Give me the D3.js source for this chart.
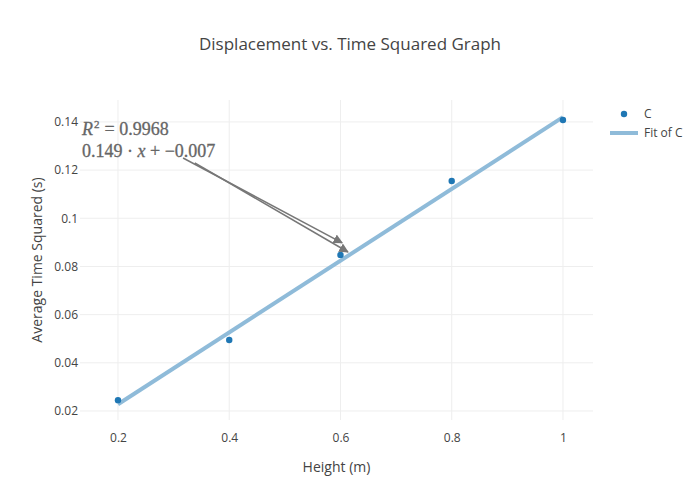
<!DOCTYPE html>
<html><head><meta charset="utf-8">
<script src="https://cdn.jsdelivr.net/npm/d3@7"></script>
<style>body{margin:0;background:#fff}</style>
</head><body><svg id="c" width="700" height="500"></svg>
<script>
const heights = [0.2, 0.4, 0.6, 0.8, 1.0];
const timeSq = [0.0245, 0.0495, 0.0848, 0.1155, 0.1408];
const fitSlope = 0.149, fitIntercept = -0.007;
const fitRange = [0.2, 1.0];
const xTicks = [0.2, 0.4, 0.6, 0.8, 1];
const yTicks = [0.02, 0.04, 0.06, 0.08, 0.1, 0.12, 0.14];
const seriesNames = ["C", "Fit of C"];
// annotation arrows: [tail, head] in data units
const arrows = [[[0.317, 0.1250], [0.603, 0.0898]], [[0.338, 0.1230], [0.6135, 0.0860]]];

const svg = d3.select("#c");
const m = {l:80, r:107, t:100, b:80};
const W = 700, H = 500;
const x = d3.scaleLinear().domain([0.1317, 1.054]).range([m.l, W - m.r]);
const y = d3.scaleLinear().domain([0.01626, 0.1491]).range([H - m.b, m.t]);
const font = "'Open Sans', sans-serif";

// grid
svg.append("g").selectAll("line").data(xTicks).join("line")
  .attr("x1", d => x(d)).attr("x2", d => x(d)).attr("y1", m.t).attr("y2", H - m.b)
  .attr("stroke", "#eee").attr("stroke-width", 1);
svg.append("g").selectAll("line").data(yTicks).join("line")
  .attr("y1", d => y(d)).attr("y2", d => y(d)).attr("x1", m.l).attr("x2", W - m.r)
  .attr("stroke", "#eee").attr("stroke-width", 1);

// axes labels via d3 axes
const xAxis = svg.append("g").attr("transform", `translate(0,${H - m.b})`)
  .call(d3.axisBottom(x).tickValues(xTicks).tickSize(0).tickPadding(13).tickFormat(d3.format("~g")));
const yAxis = svg.append("g").attr("transform", `translate(${m.l},0)`)
  .call(d3.axisLeft(y).tickValues(yTicks).tickSize(0).tickPadding(2).tickFormat(d3.format("~g")));
[xAxis, yAxis].forEach(a => {
  a.select(".domain").remove();
  a.selectAll("text").attr("fill", "#444").style("font-family", font).style("font-size", "12px");
});

// fit line
svg.append("line")
  .attr("x1", x(fitRange[0])).attr("y1", y(fitSlope * fitRange[0] + fitIntercept))
  .attr("x2", x(fitRange[1])).attr("y2", y(fitSlope * fitRange[1] + fitIntercept))
  .attr("stroke", "#8fbbd9").attr("stroke-width", 4);

// points
svg.append("g").selectAll("circle").data(heights).join("circle")
  .attr("cx", d => x(d)).attr("cy", (d, i) => y(timeSq[i])).attr("r", 3.2)
  .attr("fill", "#1f77b4");

// annotation arrows
const defs = svg.append("defs");
defs.append("marker").attr("id", "ah").attr("viewBox", "0 0 10 10").attr("refX", 9).attr("refY", 5)
  .attr("markerWidth", 6).attr("markerHeight", 6).attr("orient", "auto")
  .append("path").attr("d", "M0,0 L10,5 L0,10 Z").attr("fill", "#777");
svg.append("g").selectAll("line").data(arrows).join("line")
  .attr("x1", d => x(d[0][0])).attr("y1", d => y(d[0][1]))
  .attr("x2", d => x(d[1][0])).attr("y2", d => y(d[1][1]))
  .attr("stroke", "#777").attr("stroke-width", 1.6).attr("marker-end", "url(#ah)");

// annotation text (math)
const mf = "'Liberation Serif', serif";
const mathStyle = s => s.attr("fill", "#666").style("font-family", mf).style("font-size", "18px")
  .style("stroke", "#666").style("stroke-width", "0.3px");
const r = svg.append("text").attr("x", 82).attr("y", 135).call(mathStyle).style("font-style", "italic").text("R");
const rw = r.node().getComputedTextLength();
const sup = svg.append("text").attr("x", 82 + rw + 1).attr("y", 128).call(mathStyle).style("font-size", "11px").text("2");
const sw = sup.node().getComputedTextLength();
svg.append("text").attr("x", 82 + rw + sw + 6).attr("y", 135).call(mathStyle).text("=\u00a00.9968");
const t2 = svg.append("text").attr("x", 82).attr("y", 157).call(mathStyle);
t2.append("tspan").text("0.149\u00a0·\u00a0");
t2.append("tspan").style("font-style", "italic").text("x");
t2.append("tspan").text("\u00a0+\u00a0−0.007");

// title
svg.append("text").attr("x", 350).attr("y", 50).attr("text-anchor", "middle")
  .attr("fill", "#444").style("font-family", font).style("font-size", "17px")
  .text("Displacement vs. Time Squared Graph");
// axis titles
svg.append("text").attr("x", (m.l + W - m.r) / 2).attr("y", 472).attr("text-anchor", "middle")
  .attr("fill", "#444").style("font-family", font).style("font-size", "14px").text("Height (m)");
svg.append("text").attr("transform", `translate(42,${(m.t + H - m.b) / 2}) rotate(-90)`)
  .attr("text-anchor", "middle").attr("fill", "#444").style("font-family", font).style("font-size", "14px")
  .text("Average Time Squared (s)");

// legend
const lg = svg.append("g");
lg.append("circle").attr("cx", 624).attr("cy", 114).attr("r", 3.2).attr("fill", "#1f77b4");
lg.append("text").attr("x", 644).attr("y", 118).attr("fill", "#444").style("font-family", font).style("font-size", "12px").text(seriesNames[0]);
lg.append("line").attr("x1", 610).attr("x2", 638).attr("y1", 133).attr("y2", 133).attr("stroke", "#8fbbd9").attr("stroke-width", 4);
lg.append("text").attr("x", 644).attr("y", 137).attr("fill", "#444").style("font-family", font).style("font-size", "12px").text(seriesNames[1]);
</script></body></html>
